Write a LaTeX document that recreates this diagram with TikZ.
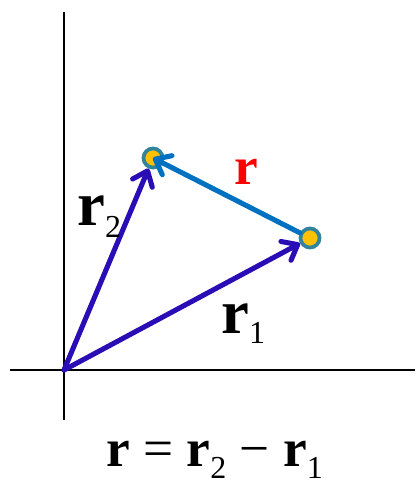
\documentclass[tikz,border=0pt]{standalone}
\usepackage{fontspec}
\setmainfont{Liberation Serif}
\usetikzlibrary{arrows.meta}
\definecolor{vecblue}{HTML}{2A0DB5}
\definecolor{rblue}{HTML}{0070C0}
\definecolor{ptfill}{HTML}{FFC000}
\definecolor{ptedge}{HTML}{31849B}
\newcommand{\bigfont}{\fontsize{47}{47}\selectfont}
\newcommand{\eqfont}{\fontsize{40}{40}\selectfont}
\newcommand{\subfont}{\fontsize{24}{24}\selectfont}
\newcommand{\mysub}[2]{\raisebox{-#1}{\subfont #2}}
\begin{document}
\begin{tikzpicture}[x=0.75pt,y=-0.75pt,
  axis/.style={line width=1.5pt,black},
  pt/.style={circle,draw=ptedge,fill=ptfill,line width=2.8pt,minimum size=14.3pt,inner sep=0pt},
  vec/.style={line width=3.8pt,line cap=round,-{Straight Barb[length=10pt,width=16pt,line cap=round,line join=round]}},
  lab/.style={inner sep=0pt,anchor=base west}]
\useasboundingbox (0,0) rectangle (415,484);
\coordinate (O) at (64,370);
\coordinate (ytop) at (64,12);
\coordinate (ybot) at (64,420);
\coordinate (xl) at (10,370);
\coordinate (xr) at (415,370);
\draw[axis] (ybot) -- (ytop);
\draw[axis] (xl) -- (xr);
\node[pt] (p2) at (153,158) {};
\node[pt] (p1) at (310,238) {};
\draw[vec,rblue] (p1) -- (p2.center);
\draw[vec,vecblue] (O) -- (p2);
\draw[vec,vecblue] (O) -- (p1);
\node[lab,text=red] (lr) at (234,185) {\eqfont\bfseries r};
\node[lab] (lr2) at (77,225) {\bigfont\bfseries r\mysub{9.5pt}{\mdseries 2}};
\node[lab] (lr1) at (221,333) {\bigfont\bfseries r\mysub{7.5pt}{\mdseries 1}};
\node[lab] (eq) at (106,466) {\eqfont{\bfseries r} = {\bfseries r}\mysub{9.5pt}{2} − {\bfseries r}\mysub{9.5pt}{1}};
\end{tikzpicture}
\end{document}
